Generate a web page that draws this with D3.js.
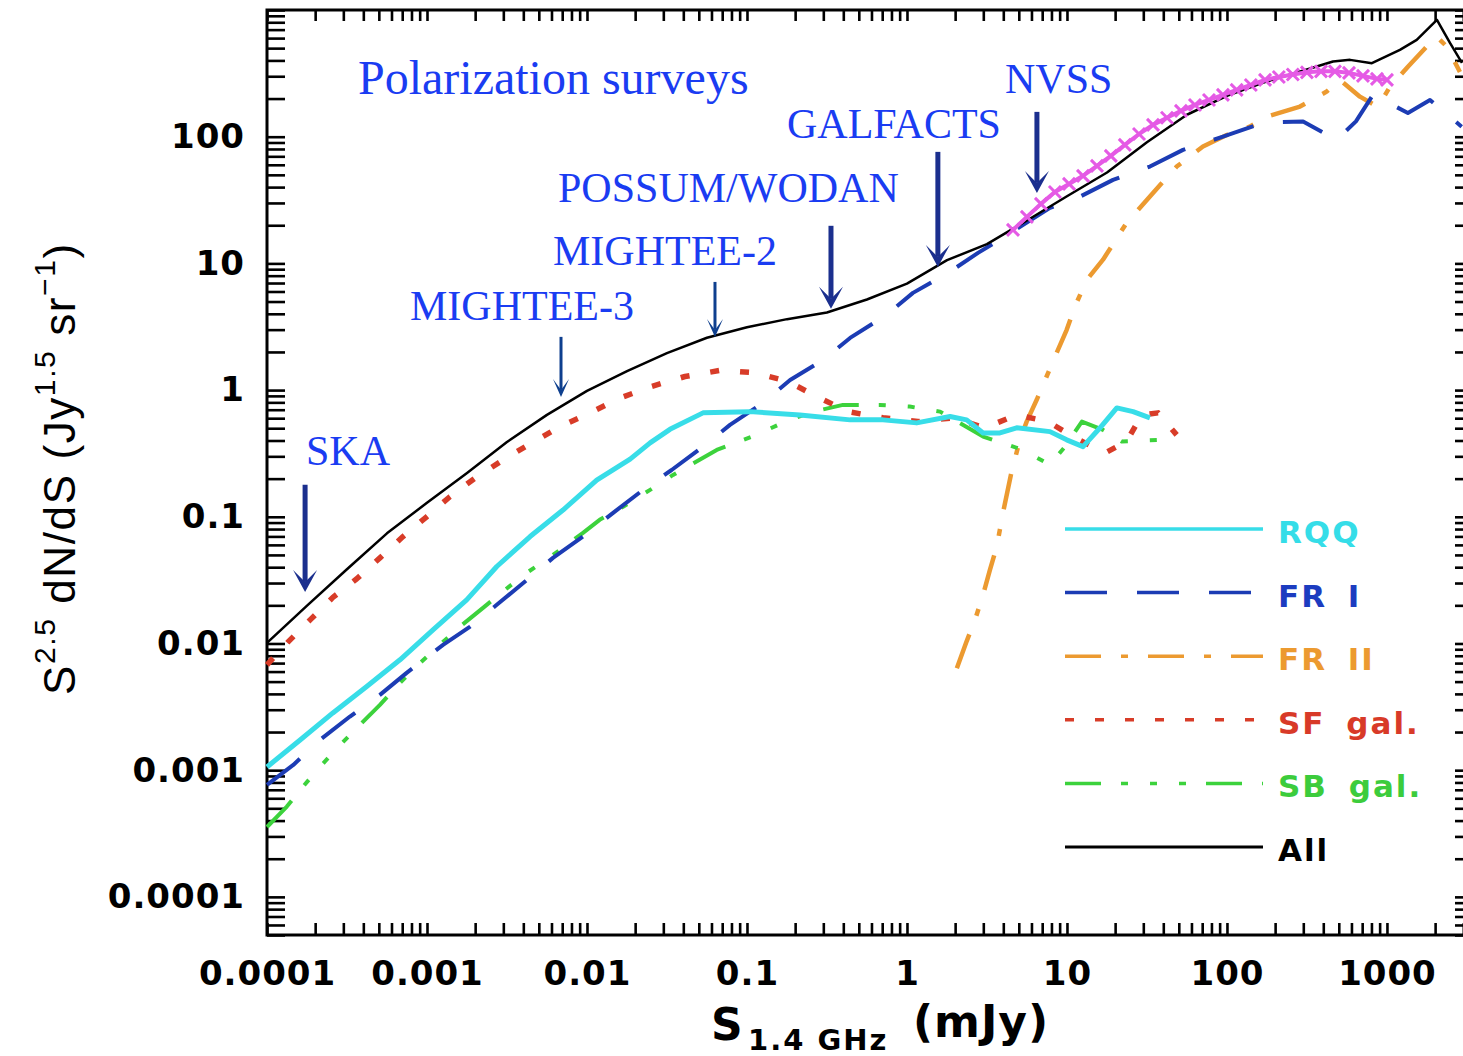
<!DOCTYPE html>
<html><head><meta charset="utf-8">
<script src="https://cdn.jsdelivr.net/npm/d3@7"></script>
<style>body{margin:0;background:#fff;} svg{display:block;background:#fff;}</style>
</head><body>
<svg id="chart" width="1463" height="1056"></svg>
<script>
// ---------------- DATA (S in mJy, values S^2.5 dN/dS) ----------------
const allS = [1e-4,1.78e-4,3.16e-4,5.62e-4,1e-3,1.78e-3,3.16e-3,5.62e-3,0.01,0.0178,0.0316,0.0562,0.1,0.178,0.316,0.562,1,1.78,3.16,5.62,10,17.8,31.6,56.2,100,178,316,460,588,805,1205,1535,2053,2477,2944];
const allV = [0.0101,0.0199,0.0385,0.0740,0.129,0.222,0.389,0.637,0.986,1.41,1.96,2.59,3.13,3.63,4.10,5.19,6.93,10.6,14.2,21.8,33.9,52.2,90.3,149,210,273,339,392,404,380,484,581,836,550,382];

const rqqS = [1e-4,1.61e-4,2.58e-4,4.20e-4,6.78e-4,1.09e-3,1.77e-3,2.73e-3,4.41e-3,7.08e-3,0.0115,0.0186,0.0248,0.0330,0.0531,0.104,0.214,0.441,0.708,1.15,1.86,2.36,2.99,3.81,4.85,7.83,9.96,12.6,16.1,20.5,25.9,33.0];
const rqqV = [1.06e-3,1.73e-3,2.83e-3,4.57e-3,7.43e-3,0.0128,0.0221,0.0405,0.0698,0.113,0.195,0.285,0.383,0.49,0.661,0.676,0.637,0.582,0.582,0.551,0.618,0.582,0.459,0.459,0.504,0.470,0.405,0.358,0.504,0.723,0.676,0.604];

const fr1S = [1e-4,1.46e-4,2.14e-4,3.30e-4,5.08e-4,7.46e-4,1.26e-3,1.86e-3,2.73e-3,4.10e-3,6.13e-3,9.44e-3,0.0145,0.0224,0.0338,0.0531,0.0783,0.126,0.186,0.299,0.441,0.747,1.09,1.86,2.78,3.81,7.83,12.1,19.4,33.0,53.1,94.4,168,299,485,640,818,1352,1858,2931];
const fr1V = [7.66e-4,1.10e-3,1.73e-3,2.65e-3,3.93e-3,5.86e-3,9.75e-3,0.0136,0.0202,0.0308,0.0474,0.0698,0.107,0.163,0.234,0.358,0.531,0.792,1.20,1.73,2.58,3.93,5.85,8.61,12.1,15.4,27.4,33.7,45.6,58.1,78.7,100,129,132,94.4,132,214,154,195,120];

const fr2S = [2.05,2.36,2.66,2.99,3.30,3.64,3.98,4.51,5.08,5.60,6.47,7.46,8.63,9.96,11.2,13.3,16.8,23.6,34.5,48.5,70.8,99.6,139,177,286,420,508,678,879,1045,1352,1770,2048,2371,2858];
const fr2V = [6.38e-3,0.0104,0.0153,0.0242,0.0381,0.0582,0.107,0.228,0.405,0.564,0.838,1.28,1.97,2.99,4.56,7.41,10.7,20.9,36.0,58.1,83.6,103,120,144,173,227,281,207,172,248,357,514,617,512,324];

const sfS = [1e-4,1.36e-4,1.86e-4,2.58e-4,3.64e-4,5.08e-4,7.08e-4,9.95e-4,1.39e-3,2.05e-3,2.99e-3,4.51e-3,6.78e-3,0.01045,0.0161,0.0254,0.0410,0.0678,0.112,0.180,0.273,0.428,0.708,1.17,1.94,3.07,4.85,7.61,11.2,17.3,23.6,29.3,37.1,48.5];
const sfV = [6.78e-3,0.01035,0.01535,0.0231,0.0324,0.0474,0.0698,0.100,0.144,0.207,0.281,0.383,0.515,0.661,0.867,1.07,1.28,1.43,1.37,1.17,0.889,0.676,0.604,0.564,0.604,0.504,0.637,0.564,0.420,0.319,0.393,0.637,0.661,0.443];

const sbS = [1e-4,1.33e-4,1.68e-4,2.20e-4,2.86e-4,3.81e-4,5.08e-4,6.59e-4,8.79e-4,1.17e-3,1.61e-3,2.24e-3,3.07e-3,4.20e-3,6.13e-3,9.44e-3,0.0120,0.0168,0.0248,0.0345,0.0647,0.115,0.173,0.259,0.398,0.678,1.04,1.61,2.99,5.31,7.83,9.72,12.4,16.8,22.0,39.8];
const sbV = [3.56e-4,5.16e-4,7.43e-4,1.10e-3,1.58e-3,2.28e-3,3.28e-3,4.71e-3,6.78e-3,9.46e-3,0.0136,0.0191,0.0265,0.0361,0.0500,0.0746,0.0946,0.120,0.163,0.214,0.337,0.443,0.564,0.676,0.764,0.764,0.741,0.676,0.430,0.337,0.257,0.358,0.564,0.485,0.393,0.405];

const nvssS = [4.60,5.62,6.88,8.41,10.3,12.6,15.4,18.8,23.0,28.2,34.5,42.2,51.6,63.1,77.2,94.4,115,141,173,211,258,316,387,473,579,708,866,1000];
const nvssV = [18.4,23.3,29.5,36.6,42.4,49.1,58.9,70.5,86.1,105,124,141,160,178,195,214,234,256,281,296,310,322,328,328,319,302,286,281];

const xTickValues = [1e-4,1e-3,0.01,0.1,1,10,100,1000];
const xTickLabels = ["0.0001","0.001","0.01","0.1","1","10","100","1000"];
const yTickValues = [1e-4,1e-3,0.01,0.1,1,10,100];
const yTickLabels = ["0.0001","0.001","0.01","0.1","1","10","100"];

const legendNames = ["RQQ","FR I","FR II","SF gal.","SB gal.","All"];

const surveyNames = ["SKA","MIGHTEE-3","MIGHTEE-2","POSSUM/WODAN","GALFACTS","NVSS"];
const surveyFlux  = [1.73e-4,6.88e-3,0.0631,0.335,1.56,6.49];
const arrowTail   = [0.179,2.63,7.14,19.8,75.9,157];
const arrowTip    = [0.0255,0.883,2.63,4.38,9.38,36.0];
const headingText = "Polarization surveys";

// ---------------- LAYOUT / STYLE ----------------
const plot = {left:267, right:1473, top:10, bottom:935};
const svg = d3.select("#chart");
svg.append("rect").attr("width",1463).attr("height",1056).attr("fill","#fff");

const x = d3.scaleLog().domain([1e-4, 3450]).range([plot.left, plot.right]);
const y = d3.scaleLog().domain([5e-5, 1000]).range([plot.bottom, plot.top]);

function minorTicks(lo, hi){
  const t=[];
  for(let e=-6;e<=4;e++) for(let m=1;m<=9;m++){
    const v=+(m*Math.pow(10,e)).toPrecision(3);
    if(v>=lo*0.9999 && v<=hi*1.0001) t.push(v);
  }
  return t;
}
const xt = minorTicks(1e-4, 3450), yt = minorTicks(5e-5, 1000);
function fmt(vals, labels){
  return v => { const i = vals.findIndex(m => Math.abs(Math.log10(m)-Math.log10(v))<1e-6); return i>=0?labels[i]:""; };
}

const tickFont = "'DejaVu Sans', sans-serif";
function styleAxis(g){
  g.select(".domain").remove();
  g.selectAll(".tick line").attr("stroke","#000").attr("stroke-width",2.6);
  g.selectAll("text").attr("font-family",tickFont).attr("font-weight","bold").attr("font-size",34)
    .attr("letter-spacing",1).attr("fill","#000");
}
svg.append("g").attr("transform",`translate(0,${plot.bottom})`)
  .call(d3.axisBottom(x).tickValues(xt).tickSizeInner(-12).tickSizeOuter(0).tickPadding(26).tickFormat(fmt(xTickValues,xTickLabels))).call(styleAxis);
svg.append("g").attr("transform",`translate(0,${plot.top})`)
  .call(d3.axisTop(x).tickValues(xt).tickSizeInner(-11).tickSizeOuter(0).tickFormat(()=>"")).call(styleAxis);
svg.append("g").attr("transform",`translate(${plot.left},0)`)
  .call(d3.axisLeft(y).tickValues(yt).tickSizeInner(-18).tickSizeOuter(0).tickPadding(22).tickFormat(fmt(yTickValues,yTickLabels))).call(styleAxis);
svg.append("g").attr("transform",`translate(${plot.right},0)`)
  .call(d3.axisRight(y).tickValues(yt).tickSizeInner(-18).tickSizeOuter(0).tickFormat(()=>"")).call(styleAxis);

svg.append("rect").attr("x",plot.left).attr("y",plot.top).attr("width",plot.right-plot.left).attr("height",plot.bottom-plot.top)
  .attr("fill","none").attr("stroke","#000").attr("stroke-width",3);

// clip
svg.append("defs").append("clipPath").attr("id","clip").append("rect")
  .attr("x",plot.left-6).attr("y",plot.top).attr("width",plot.right-plot.left+6).attr("height",plot.bottom-plot.top);

const line = d3.line().x(d=>x(d[0])).y(d=>y(d[1]));
const zip = (a,b) => a.map((v,i)=>[v,b[i]]);

const styles = {
  "RQQ":    {color:"#38dde8", w:5,   dash:null},
  "FR I":   {color:"#1c3cb4", w:4,   dash:"42,30"},
  "FR II":  {color:"#ec9a30", w:4.5, dash:"36,20,7,20"},
  "SF gal.":{color:"#d83c28", w:5.5, dash:"9,21"},
  "SB gal.":{color:"#3cd23c", w:4,   dash:"36,20,7,22,7,22,7,20"},
  "All":    {color:"#000000", w:2.5, dash:null}
};
const series = [
  ["FR II", zip(fr2S,fr2V)],
  ["SB gal.", zip(sbS,sbV)],
  ["SF gal.", zip(sfS,sfV)],
  ["FR I", zip(fr1S,fr1V)],
  ["RQQ", zip(rqqS,rqqV)],
  ["All", zip(allS,allV)]
];
const gLines = svg.append("g").attr("clip-path","url(#clip)");
series.forEach(([name,data])=>{
  const s=styles[name];
  gLines.append("path").datum(data).attr("d",line).attr("fill","none")
    .attr("stroke",s.color).attr("stroke-width",s.w).attr("stroke-dasharray",s.dash)
    .attr("stroke-linejoin","round");
});
// NVSS points
const nv = zip(nvssS,nvssV);
gLines.append("path").datum(nv).attr("d",line).attr("fill","none").attr("stroke","#e55ae5").attr("stroke-width",4);
gLines.selectAll(".nvx").data(nv).enter().append("path").attr("class","nvx")
  .attr("d",d=>{const cx=x(d[0]),cy=y(d[1]),r=6;return `M${cx-r},${cy-r}L${cx+r},${cy+r}M${cx-r},${cy+r}L${cx+r},${cy-r}`;})
  .attr("stroke","#e55ae5").attr("stroke-width",3);

// legend
const legY0 = 529, legDy = 63.6;
const legendColors = {"RQQ":"#35dde8","FR I":"#1c3cc0","FR II":"#ec9a30","SF gal.":"#d83a28","SB gal.":"#3ccc3c","All":"#000"};
legendNames.forEach((n,i)=>{
  const s=styles[n], yy=legY0+i*legDy;
  svg.append("line").attr("x1",1065).attr("x2",1263).attr("y1",yy).attr("y2",yy)
    .attr("stroke",s.color).attr("stroke-width",n==="All"?3:3.5).attr("stroke-dasharray",s.dash);
  svg.append("text").attr("x",1278).attr("y",yy+14).text(n)
    .attr("font-family",tickFont).attr("font-weight","bold").attr("font-size",31)
    .attr("letter-spacing",2).attr("word-spacing",8).attr("fill",legendColors[n]);
});

// survey labels
const serif = "'Liberation Serif','Times New Roman',serif";
const labelBlue = "#1a3cf2";
svg.append("text").attr("x",358).attr("y",94).text(headingText)
  .attr("font-family",serif).attr("font-size",48).attr("fill",labelBlue);
const labelPos = {"SKA":[306,465],"MIGHTEE-3":[410,320],"MIGHTEE-2":[553,265],"POSSUM/WODAN":[558,202],"GALFACTS":[787,138],"NVSS":[1005,93]};
surveyNames.forEach(n=>{
  svg.append("text").attr("x",labelPos[n][0]).attr("y",labelPos[n][1]).text(n)
    .attr("font-family",serif).attr("font-size",42).attr("fill",labelBlue);
});
// arrows
surveyNames.forEach((n,i)=>{
  const heavy = !(n==="MIGHTEE-3"||n==="MIGHTEE-2");
  const col = heavy ? "#1b2f8e" : "#0e3f8e";
  const ax = x(surveyFlux[i]), y0 = y(arrowTail[i]), y1 = y(arrowTip[i]);
  const hw = heavy?12:8, hl = heavy?22:18, notch = heavy?10:7;
  svg.append("line").attr("x1",ax).attr("x2",ax).attr("y1",y0).attr("y2",y1-notch)
    .attr("stroke",col).attr("stroke-width",heavy?5:3);
  svg.append("path").attr("d",`M${ax},${y1}L${ax-hw},${y1-hl}L${ax},${y1-notch}L${ax+hw},${y1-hl}Z`).attr("fill",col);
});

// axis titles
const xt1 = svg.append("g").attr("font-family",tickFont).attr("font-weight","bold").attr("fill","#000");
xt1.append("text").attr("x",711).attr("y",1040).attr("font-size",44).text("S");
xt1.append("text").attr("x",748).attr("y",1050).attr("font-size",29).attr("letter-spacing",2).text("1.4 GHz");
xt1.append("text").attr("x",913).attr("y",1037).attr("font-size",44).attr("letter-spacing",1).text("(mJy)");

const yTitle = svg.append("text").attr("transform","translate(75,695) rotate(-90)")
  .attr("font-family","'Liberation Sans', Arial, sans-serif").attr("font-size",44)
  .attr("letter-spacing",1.6).attr("fill","#000");
yTitle.append("tspan").text("S");
yTitle.append("tspan").attr("font-size",30).attr("dy",-20).text("2.5");
yTitle.append("tspan").attr("dy",20).text(" dN/dS (Jy");
yTitle.append("tspan").attr("font-size",30).attr("dy",-20).text("1.5");
yTitle.append("tspan").attr("dy",20).text(" sr");
yTitle.append("tspan").attr("font-size",30).attr("dy",-20).text("\u22121");
yTitle.append("tspan").attr("dy",20).text(")");
</script>
</body></html>
